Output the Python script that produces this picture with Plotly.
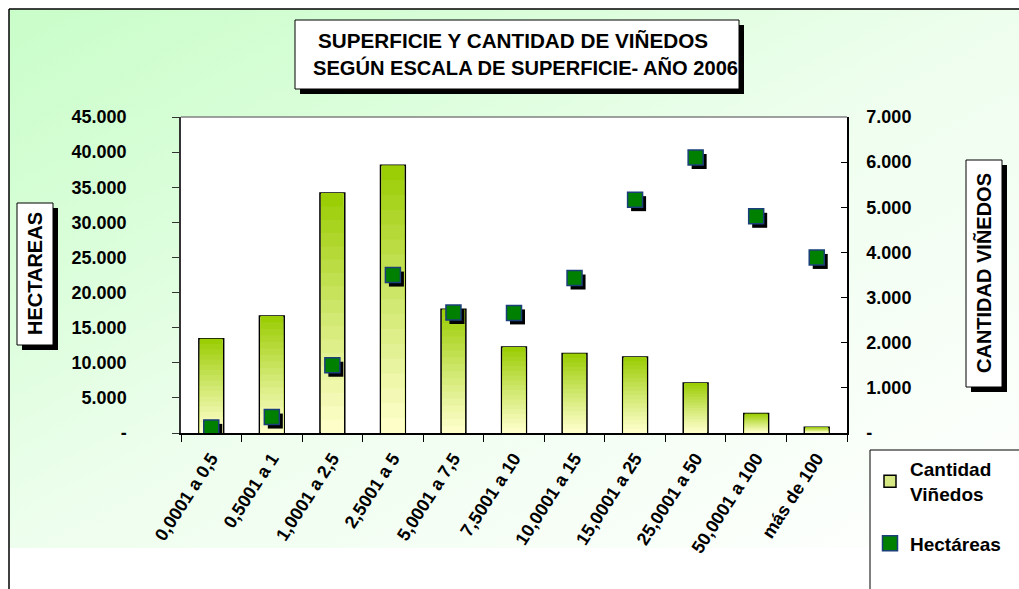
import base64
import plotly.graph_objects as go

# ---------------- data ----------------
categories = ["0,0001 a 0,5", "0,5001 a 1", "1,0001 a 2,5", "2,5001 a 5", "5,0001 a 7,5",
              "7,5001 a 10", "10,0001 a 15", "15,0001 a 25", "25,0001 a 50",
              "50,0001 a 100", "más de 100"]
cantidad_vinedos = [2090, 2590, 5315, 5930, 2740, 1905, 1760, 1685, 1110, 430, 130]
hectareas = [800, 2270, 9650, 22490, 17160, 17100, 22070, 33230, 39230, 30860, 25000]

left_tickvals = [0, 5000, 10000, 15000, 20000, 25000, 30000, 35000, 40000, 45000]
left_ticktext = ["-", "5.000", "10.000", "15.000", "20.000", "25.000", "30.000",
                 "35.000", "40.000", "45.000"]
right_tickvals = [0, 1000, 2000, 3000, 4000, 5000, 6000, 7000]
right_ticktext = ["-", "1.000", "2.000", "3.000", "4.000", "5.000", "6.000", "7.000"]

title_line1 = "SUPERFICIE Y CANTIDAD DE VIÑEDOS"
title_line2 = "SEGÚN ESCALA DE SUPERFICIE- AÑO 2006"
left_title = "HECTAREAS"
right_title = "CANTIDAD VIÑEDOS"

# ---------------- geometry helpers ----------------
W, H = 1019, 589
L, R, T, B = 181, 172, 117, 156
PW, PH = W - L - R, H - T - B
LEFT_MAX, RIGHT_MAX = 45000, 7000


def px(x):
    return (x - L) / PW


def py(y):
    return (H - B - y) / PH


FONT = "Liberation Sans"
x_idx = list(range(len(categories)))

fig = go.Figure()

# main bar trace (outline + legend entry)
fig.add_trace(go.Bar(
    x=x_idx, y=cantidad_vinedos, name="Cantidad<br>Viñedos", width=0.41,
    marker=dict(color="#d6e884", line=dict(color="black", width=1.5)),
    yaxis="y", legendgroup="a", hoverinfo="skip",
))

# gradient layers inside bars (green top -> pale yellow bottom)
green = (153, 204, 0)
yellow = (255, 255, 204)
n_layers = 18
for k in range(n_layers):
    f = (n_layers - k) / n_layers
    t = max(f - 0.5 / n_layers, 0) ** 1.1
    c = tuple(round(yellow[i] + (green[i] - yellow[i]) * t) for i in range(3))
    fig.add_trace(go.Bar(
        x=x_idx, y=[v * f for v in cantidad_vinedos], width=0.375,
        marker=dict(color="rgb(%d,%d,%d)" % c, line=dict(width=0)),
        yaxis="y", showlegend=False, hoverinfo="skip",
    ))

# marker shadows (offset a few pixels)
dx = 3.5 / (PW / len(categories))
dy = 4 * LEFT_MAX / PH
fig.add_trace(go.Scatter(
    x=[i + dx for i in x_idx], y=[v - dy for v in hectareas], mode="markers",
    marker=dict(symbol="square", size=15, color="black", line=dict(width=0)),
    yaxis="y2", showlegend=False, hoverinfo="skip",
))
fig.add_trace(go.Scatter(
    x=x_idx, y=hectareas, mode="markers", name="Hectáreas",
    marker=dict(symbol="square", size=15, color="#008000",
                line=dict(color="#1b3f7a", width=1.5)),
    yaxis="y2", legendgroup="b",
))

# ---------------- background ----------------
svg = ('<svg xmlns="http://www.w3.org/2000/svg" width="1010" height="540" '
       'preserveAspectRatio="none"><defs><linearGradient id="g" x1="0" y1="0" x2="1" y2="1">'
       '<stop offset="0" stop-color="#c9fdc9"/><stop offset="0.25" stop-color="#d9fed9"/>'
       '<stop offset="0.5" stop-color="#eefeee"/><stop offset="1" stop-color="#ffffff"/>'
       '</linearGradient></defs><rect width="1010" height="540" fill="url(#g)"/></svg>')
bg_src = "data:image/svg+xml;base64," + base64.b64encode(svg.encode("utf-8")).decode("ascii")

shapes = [
    # white plot area
    dict(type="rect", xref="paper", yref="paper", x0=0, x1=1, y0=0, y1=1,
         fillcolor="white", line=dict(width=0), layer="below"),
    # top border of plot area (gray)
    dict(type="line", xref="paper", yref="paper", x0=0, x1=1, y0=1, y1=1,
         line=dict(color="#808080", width=1.5)),
    # outer frame
    dict(type="line", xref="paper", yref="paper", x0=px(9), x1=px(9), y0=py(9), y1=py(589),
         line=dict(color="black", width=1.5)),
    dict(type="line", xref="paper", yref="paper", x0=px(9), x1=px(1019), y0=py(9), y1=py(9),
         line=dict(color="black", width=1.5)),
    # legend frame (runs off the right/bottom edge as in the reference)
    dict(type="rect", xref="paper", yref="paper", x0=px(870), x1=px(1030),
         y0=py(600), y1=py(450), fillcolor="white", line=dict(color="black", width=1),
         layer="below"),
]


def boxed(x0, y0, x1, y1, off=5):
    return [
        dict(type="rect", xref="paper", yref="paper", x0=px(x0 + off), x1=px(x1 + off),
             y0=py(y0 + off), y1=py(y1 + off), fillcolor="black", line=dict(width=0)),
        dict(type="rect", xref="paper", yref="paper", x0=px(x0), x1=px(x1),
             y0=py(y0), y1=py(y1), fillcolor="white", line=dict(color="black", width=1)),
    ]


shapes += boxed(295, 20, 739, 89)
shapes += boxed(17, 203, 53, 345)
shapes += boxed(966, 160, 1002, 387)

annotations = [
    dict(text=title_line1, x=px(513), y=py(40), xref="paper", yref="paper",
         xanchor="center", yanchor="middle", showarrow=False,
         font=dict(family=FONT, size=20.7, color="black", weight="bold")),
    dict(text=title_line2, x=px(525), y=py(67), xref="paper", yref="paper",
         xanchor="center", yanchor="middle", showarrow=False,
         font=dict(family=FONT, size=20.1, color="black", weight="bold")),
    dict(text=left_title, x=px(35), y=py(274), xref="paper", yref="paper", textangle=-90,
         xanchor="center", yanchor="middle", showarrow=False,
         font=dict(family=FONT, size=20, color="black", weight="bold")),
    dict(text=right_title, x=px(984), y=py(273), xref="paper", yref="paper", textangle=-90,
         xanchor="center", yanchor="middle", showarrow=False,
         font=dict(family=FONT, size=20, color="black", weight="bold")),
]

tick_font = dict(family=FONT, size=18, color="black", weight="bold")

fig.update_layout(
    width=W, height=H,
    margin=dict(l=L, r=R, t=T, b=B, pad=0, autoexpand=False),
    paper_bgcolor="white", plot_bgcolor="rgba(0,0,0,0)",
    barmode="overlay",
    showlegend=True,
    images=[dict(source=bg_src, xref="paper", yref="paper", x=px(9), y=py(9),
                 sizex=(W - 9) / PW, sizey=(548 - 9) / PH, xanchor="left", yanchor="top",
                 sizing="stretch", layer="below")],
    shapes=shapes,
    annotations=annotations,
    xaxis=dict(
        range=[-0.5, len(categories) - 0.5], tickmode="array", tickvals=x_idx,
        ticktext=categories, tickangle=-57,
        tickfont=dict(family=FONT, size=18, color="black", weight="bold"),
        ticks="outside", ticklen=6, tickcolor="rgba(0,0,0,0)",
        minor=dict(tickmode="array", tickvals=[i - 0.5 for i in range(len(categories) + 1)],
                   ticks="outside", ticklen=7, tickwidth=1.2, tickcolor="black", showgrid=False),
        showline=True, linecolor="black", linewidth=1.5, showgrid=False, zeroline=False,
    ),
    yaxis=dict(
        range=[0, RIGHT_MAX], side="right", tickmode="array", tickvals=right_tickvals,
        ticktext=right_ticktext, tickfont=tick_font, ticks="inside", ticklen=6,
        tickwidth=1.2, tickcolor="black", showline=True, linecolor="black", linewidth=1.5,
        showgrid=False, zeroline=False, ticklabelstandoff=14,
    ),
    yaxis2=dict(
        range=[0, LEFT_MAX], side="left", overlaying="y", tickmode="array",
        tickvals=left_tickvals, ticktext=left_ticktext, tickfont=tick_font,
        ticks="outside", ticklen=7, tickwidth=1.2, tickcolor="#333333", showline=True,
        linecolor="#333333", linewidth=1.5, showgrid=False, zeroline=False,
        ticklabelstandoff=42,
    ),
    legend=dict(
        x=px(870), y=py(450), xanchor="left", yanchor="top",
        bgcolor="rgba(0,0,0,0)", borderwidth=0,
        font=dict(family=FONT, size=19, color="black", weight="bold"),
        tracegroupgap=22, itemwidth=30,
    ),
)

fig.write_html("out.html", config={"displayModeBar": False},
               post_script="document.body.style.margin='0px';")
